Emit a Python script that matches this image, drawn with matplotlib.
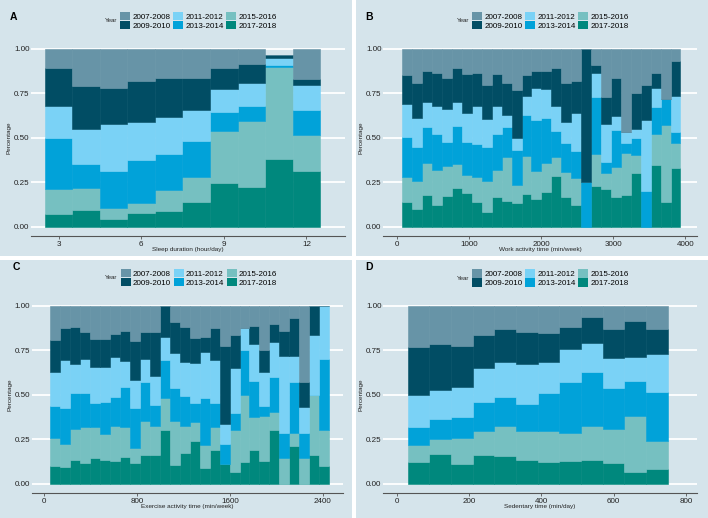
import matplotlib
matplotlib.use("Agg")
import matplotlib.pyplot as plt
from matplotlib.patches import Patch, Rectangle

plt.rcParams['font.family'] = ['Liberation Sans', 'DejaVu Sans']

W, H = 708, 518
BG = '#d5e4eb'

years = ['2007-2008', '2009-2010', '2011-2012', '2013-2014', '2015-2016', '2017-2018']
colors = {'2007-2008': '#6794a7', '2009-2010': '#014d64', '2011-2012': '#7ad2f6',
          '2013-2014': '#01a2d9', '2015-2016': '#76c0c1', '2017-2018': '#00887d'}
stack_order = ['2017-2018', '2015-2016', '2013-2014', '2011-2012', '2009-2010', '2007-2008']

# cumulative share at the top of each year's layer (stacked from 2017-2018 upward)

# A: sleep duration, bins centred on whole hours
sleep_left = [2.5, 3.5, 4.5, 5.5, 6.5, 7.5, 8.5, 9.5, 10.5, 11.5]
sleep_width = 1.0
sleep_tops = {
    '2017-2018': [0.069, 0.093, 0.043, 0.075, 0.088, 0.138, 0.247, 0.221, 0.381, 0.312],
    '2015-2016': [0.211, 0.215, 0.103, 0.133, 0.204, 0.279, 0.536, 0.591, 0.897, 0.514],
    '2013-2014': [0.499, 0.351, 0.314, 0.374, 0.407, 0.482, 0.645, 0.677, 0.910, 0.654],
    '2011-2012': [0.677, 0.551, 0.579, 0.587, 0.615, 0.656, 0.770, 0.807, 0.945, 0.798],
    '2009-2010': [0.892, 0.789, 0.778, 0.817, 0.832, 0.836, 0.888, 0.912, 0.963, 0.828],
    '2007-2008': [1.0, 1.0, 1.0, 1.0, 1.0, 1.0, 1.0, 1.0, 0.963, 1.0],
}

# B: work activity time, 28 bins
work_left = [78 + 137.6 * i for i in range(28)]
work_width = 137.6
work_tops = {
    '2017-2018': [0.136, 0.097, 0.178, 0.120, 0.174, 0.215, 0.190, 0.136, 0.084, 0.166,
                  0.146, 0.133, 0.182, 0.154, 0.192, 0.285, 0.167, 0.120, 0.0, 0.228,
                  0.214, 0.167, 0.178, 0.299, 0.0, 0.346, 0.137, 0.331],
    '2015-2016': [0.280, 0.256, 0.359, 0.318, 0.340, 0.351, 0.290, 0.280, 0.256, 0.318,
                  0.389, 0.234, 0.394, 0.312, 0.355, 0.391, 0.306, 0.276, 0.0, 0.407,
                  0.303, 0.333, 0.413, 0.402, 0.0, 0.520, 0.570, 0.467],
    '2013-2014': [0.505, 0.449, 0.557, 0.523, 0.475, 0.565, 0.475, 0.465, 0.445, 0.523,
                  0.557, 0.432, 0.626, 0.600, 0.611, 0.535, 0.471, 0.426, 0.252, 0.727,
                  0.362, 0.542, 0.470, 0.499, 0.200, 0.673, 0.714, 0.531],
    '2011-2012': [0.688, 0.611, 0.700, 0.677, 0.660, 0.700, 0.636, 0.677, 0.604, 0.677,
                  0.629, 0.500, 0.731, 0.780, 0.773, 0.677, 0.589, 0.636, 0.252, 0.864,
                  0.576, 0.621, 0.530, 0.551, 0.598, 0.780, 0.714, 0.733],
    '2009-2010': [0.854, 0.804, 0.873, 0.864, 0.832, 0.890, 0.856, 0.860, 0.796, 0.858,
                  0.804, 0.766, 0.850, 0.873, 0.873, 0.890, 0.807, 0.817, 1.0, 0.907,
                  0.727, 0.835, 0.530, 0.748, 0.798, 0.865, 0.714, 0.931],
    '2007-2008': [1.0] * 28,
}

# C: exercise activity time, 28 bins
exer_left = [49 + 86.0 * i for i in range(28)]
exer_width = 86.0
exer_tops = {
    '2017-2018': [0.103, 0.093, 0.136, 0.118, 0.146, 0.136, 0.127, 0.150, 0.120, 0.165,
                  0.163, 0.305, 0.107, 0.172, 0.243, 0.088, 0.190, 0.110, 0.070, 0.125,
                  0.193, 0.127, 0.303, 0.0, 0.215, 0.0, 0.165, 0.103],
    '2015-2016': [0.256, 0.224, 0.308, 0.318, 0.318, 0.280, 0.327, 0.318, 0.203, 0.355,
                  0.323, 0.480, 0.355, 0.323, 0.346, 0.219, 0.318, 0.110, 0.303, 0.500,
                  0.374, 0.383, 0.402, 0.143, 0.284, 0.144, 0.500, 0.303],
    '2013-2014': [0.435, 0.424, 0.508, 0.508, 0.454, 0.458, 0.490, 0.542, 0.425, 0.570,
                  0.443, 0.695, 0.536, 0.495, 0.454, 0.480, 0.454, 0.224, 0.398, 0.752,
                  0.580, 0.440, 0.598, 0.286, 0.570, 0.284, 0.500, 0.700],
    '2011-2012': [0.630, 0.695, 0.673, 0.700, 0.658, 0.654, 0.710, 0.688, 0.585, 0.700,
                  0.604, 0.826, 0.733, 0.682, 0.677, 0.738, 0.697, 0.335, 0.650, 0.873,
                  0.785, 0.630, 0.798, 0.716, 0.716, 0.430, 0.835, 1.0],
    '2009-2010': [0.807, 0.873, 0.880, 0.850, 0.815, 0.815, 0.843, 0.860, 0.802, 0.850,
                  0.850, 1.0, 0.907, 0.878, 0.817, 0.826, 0.873, 0.776, 0.837, 0.873,
                  0.888, 0.753, 0.900, 0.856, 0.930, 0.570, 1.0, 1.0],
    '2007-2008': [1.0] * 28,
}

# D: sedentary time, 12 bins
sed_left = [30 + 60 * i for i in range(12)]
sed_width = 60
sed_tops = {
    '2017-2018': [0.125, 0.168, 0.112, 0.163, 0.155, 0.135, 0.125, 0.129, 0.135, 0.116, 0.067, 0.084],
    '2015-2016': [0.219, 0.252, 0.260, 0.297, 0.325, 0.297, 0.297, 0.288, 0.327, 0.308, 0.381, 0.241],
    '2013-2014': [0.321, 0.364, 0.378, 0.460, 0.488, 0.449, 0.508, 0.572, 0.628, 0.536, 0.579, 0.518],
    '2011-2012': [0.501, 0.527, 0.546, 0.649, 0.682, 0.673, 0.684, 0.759, 0.793, 0.705, 0.712, 0.729],
    '2009-2010': [0.770, 0.785, 0.774, 0.836, 0.869, 0.854, 0.847, 0.879, 0.935, 0.867, 0.912, 0.867],
    '2007-2008': [1.0] * 12,
}

y_ticks = [0, 0.25, 0.5, 0.75, 1.0]
y_ticklabels = ['0.00', '0.25', '0.50', '0.75', '1.00']


def fx(x):
    return x / W


def fy(y):
    return 1 - y / H


fig = plt.figure(figsize=(W / 100, H / 100), dpi=100, facecolor='white')

# panel backgrounds
for (x0, y0, x1, y1) in [(0, 0, 352, 256), (356, 0, 708, 256), (0, 260, 352, 518), (356, 260, 708, 518)]:
    fig.patches.append(Rectangle((fx(x0), fy(y1)), fx(x1) - fx(x0), fy(y0) - fy(y1),
                                 transform=fig.transFigure, facecolor=BG, edgecolor='none', zorder=-5))


def panel(box, lefts, width, tops, xlim, xticks, xlabel, letter, letter_xy, legend_x, legend_y):
    left, right, top, bottom = box
    ax = fig.add_axes([fx(left), fy(bottom), fx(right) - fx(left), fy(top) - fy(bottom)])
    ax.set_facecolor(BG)
    prev = [0.0] * len(lefts)
    for yr in stack_order:
        hts = [t - p for t, p in zip(tops[yr], prev)]
        ax.bar(lefts, hts, width=width, bottom=prev, align='edge',
               color=colors[yr], edgecolor=colors[yr], linewidth=0.4, zorder=2)
        prev = tops[yr]
    ax.set_xlim(*xlim)
    ax.set_ylim(-0.05, 1.05)
    ax.set_yticks(y_ticks)
    ax.set_yticklabels(y_ticklabels)
    ax.set_xticks(xticks)
    ax.set_xticklabels([str(t) for t in xticks])
    ax.yaxis.grid(True, color='white', linewidth=1.3, zorder=0)
    ax.set_axisbelow(True)
    for s in ['top', 'right', 'left']:
        ax.spines[s].set_visible(False)
    ax.spines['bottom'].set_color('#555555')
    ax.spines['bottom'].set_linewidth(0.8)
    ax.tick_params(axis='y', length=0, pad=1, labelsize=5.8, labelcolor='#222222')
    ax.tick_params(axis='x', length=2.3, width=0.6, color='#555555', pad=1.5,
                   labelsize=5.8, labelcolor='#222222')
    ax.set_xlabel(xlabel, fontsize=4.6, color='#222222', labelpad=-0.5)
    ax.set_ylabel('Percentage', fontsize=4.6, color='#222222', labelpad=1.5)

    fig.text(fx(letter_xy[0]), fy(letter_xy[1]), letter, fontsize=7.5, fontweight='bold',
             ha='center', va='center')
    handles = [Patch(facecolor=colors[yr], edgecolor='none') for yr in years]
    fig.legend(handles, years, ncol=3, loc='center left',
               bbox_to_anchor=(fx(legend_x), fy(legend_y)), bbox_transform=fig.transFigure,
               frameon=False, fontsize=5.8, handlelength=1.25, handleheight=1.2,
               labelspacing=0.0, handletextpad=0.25, columnspacing=0.35,
               borderpad=0, borderaxespad=0)
    fig.text(fx(legend_x - 3), fy(legend_y), 'Year', fontsize=4.4, ha='right', va='center',
             color='#222222')
    return ax


panel((31, 345, 39.6, 235.6), sleep_left, sleep_width, sleep_tops, (2.0, 13.4), [3, 6, 9, 12],
      'Sleep duration (hour/day)', 'A', (13.3, 17), 120, 20.9)
panel((383, 697, 39.6, 235.6), work_left, work_width, work_tops, (-190, 4160),
      [0, 1000, 2000, 3000, 4000], 'Work activity time (min/week)', 'B', (369.5, 17), 472, 20.9)
panel((31.5, 343, 296.8, 492.9), exer_left, exer_width, exer_tops, (-110, 2575),
      [0, 800, 1600, 2400], 'Exercise activity time (min/week)', 'C', (16, 266.5), 120.5, 277.8)
panel((383, 697, 296.8, 492.9), sed_left, sed_width, sed_tops, (-38, 831),
      [0, 200, 400, 600, 800], 'Sedentary time (min/day)', 'D', (369.5, 267), 472, 278.3)

fig.savefig('out.png', dpi=100, facecolor='white')
